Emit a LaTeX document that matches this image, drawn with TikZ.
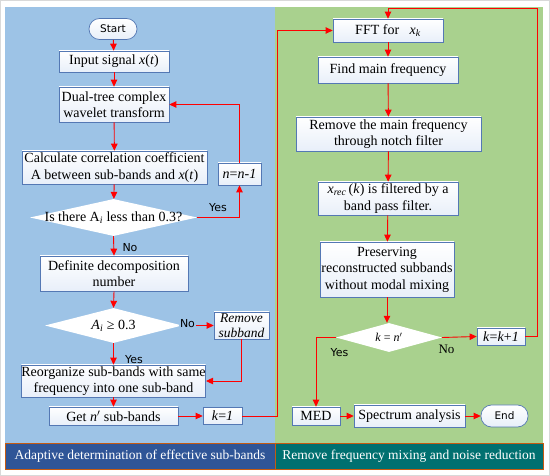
\documentclass[tikz,border=0pt]{standalone}
\usepackage{fontspec}
\setmainfont{Liberation Serif}
\newfontfamily\sansf{DejaVu Sans}
\usetikzlibrary{arrows.meta,shapes.geometric,calc}
\definecolor{panelblue}{RGB}{157,195,230}
\definecolor{panelgreen}{RGB}{169,209,142}
\definecolor{barblue}{RGB}{47,85,151}
\definecolor{barteal}{RGB}{0,112,112}
\definecolor{barline}{RGB}{197,90,17}
\definecolor{boxline}{RGB}{84,120,180}
\definecolor{boxshade}{RGB}{232,239,249}
\begin{document}
\begin{tikzpicture}[x=1pt,y=-1pt,
  box/.style={draw=boxline, line width=0.7pt, top color=white, bottom color=boxshade, align=center, inner sep=0pt, font=\fontsize{14}{16.5}\selectfont},
  term/.style={box, rounded corners=10.5pt, font=\sansf\fontsize{10.5}{12}\selectfont},
  dia/.style={fill=white, shape=diamond, inner sep=0pt, font=\fontsize{14}{16.5}\selectfont},
  arr/.style={draw=red, line width=0.9pt, -{Triangle[length=7pt,width=6.5pt]}},
  lab/.style={font=\sansf\fontsize{11}{13}\selectfont, inner sep=0pt},
  bartext/.style={text=white, font=\fontsize{13.5}{15}\selectfont, inner sep=0pt}]
\useasboundingbox (0,0) rectangle (550,476);
\fill[white] (0,0) rectangle (550,476);
\draw[gray!30] (0.5,0.5) rectangle (549.5,475.5);
\fill[panelblue] (5,7) rectangle (275,443);
\fill[panelgreen] (275,7) rectangle (543,443);
\draw[barline, fill=barblue] (5,443) rectangle (275,469);
\draw[barline, fill=barteal] (275,443) rectangle (543,469);
\node[bartext] (bl) at (140,456) {Adaptive determination of effective sub-bands};
\node[bartext] (br) at (409,456) {Remove frequency mixing and noise reduction};

% left column
\node[term, minimum width=48pt, minimum height=21pt] (start) at (113,29) {Start};
\node[box, minimum width=110pt, minimum height=21pt] (input) at (114,61.5) {Input signal \textit{x}(\textit{t})};
\node[box, minimum width=110pt, minimum height=35pt] (dual) at (114,104.5) {Dual-tree complex\\wavelet transform};
\node[box, minimum width=185pt, minimum height=33pt] (calc) at (114.5,167.5) {Calculate correlation coefficient\\A between sub-bands and \textit{x}(\textit{t})};
\node[box, minimum width=43pt, minimum height=22pt] (nmin) at (239.5,174) {\textit{n}=\textit{n}-\textit{1}};
\node[dia, minimum width=167pt, minimum height=37pt] (d1) at (113.5,217.5) {\makebox[0pt]{Is there A\textsubscript{\itshape i} less than 0.3?}};
\node[box, minimum width=148pt, minimum height=35pt] (def) at (114,273.5) {Definite decomposition\\number};
\node[dia, minimum width=137pt, minimum height=35pt] (d2) at (113.5,325.5) {\makebox[0pt]{\textit{A}\textsubscript{\itshape i} ≥ 0.3}};
\node[box, minimum width=55pt, minimum height=27pt, font=\itshape\fontsize{13.5}{15}\selectfont] (rem) at (241.5,325.5) {Remove\\subband};
\node[box, minimum width=183pt, minimum height=32pt] (reorg) at (113.5,381) {Reorganize sub-bands with same\\frequency into one sub-band};
\node[box, minimum width=129pt, minimum height=18pt] (get) at (113.5,416) {Get \textit{n}$'$ sub-bands};
\node[box, minimum width=39pt, minimum height=17pt] (k1) at (222.5,416) {\textit{k}=\textit{1}};

% right column
\node[box, minimum width=110pt, minimum height=23pt] (fft) at (388,30.5) {FFT for~~~\textit{x}\textsubscript{\itshape k}};
\node[box, minimum width=140pt, minimum height=26pt] (find) at (388,70) {Find main frequency};
\node[box, minimum width=185pt, minimum height=34pt] (remf) at (388.5,134) {Remove the main frequency\\through notch filter};
\node[box, minimum width=140pt, minimum height=33pt] (xrec) at (388,198.5) {\textit{x}\textsubscript{\itshape rec}\,(\textit{k}) is filtered by a\\band pass filter.};
\node[box, minimum width=134pt, minimum height=55pt] (pres) at (387,269.5) {Preserving\\reconstructed subbands\\without modal mixing};
\node[dia, minimum width=106pt, minimum height=29pt, font=\fontsize{12}{14}\selectfont] (d3) at (389,337.5) {\makebox[0pt]{\textit{k} = \textit{n}$'$}};
\node[box, minimum width=48pt, minimum height=17pt] (kk) at (501,336.5) {\textit{k}=\textit{k}+\textit{1}};
\node[box, minimum width=48pt, minimum height=18pt] (med) at (316,416) {MED};
\node[box, minimum width=111pt, minimum height=22pt] (spec) at (409.5,416) {Spectrum analysis};
\node[term, minimum width=47pt, minimum height=22pt] (end) at (504.5,416) {End};

\coordinate (lx) at (277,31);
\coordinate (rx) at (537,8);

% connectors left
\draw[arr] (start) -- (input);
\draw[arr] (input) -- (dual);
\draw[arr] (dual) -- (calc);
\draw[arr] (calc) -- (d1);
\draw[arr] (d1.east) -| (nmin.south);
\draw[arr] (nmin.north) |- (dual.east);
\draw[arr] (d1.south) -- (def.north);
\draw[arr] (def.south) -- (d2.north);
\draw[arr] (d2.east) -- (rem.west);
\draw[arr] (rem.south) |- (reorg.east);
\draw[arr] (d2.south) -- (reorg.north);
\draw[arr] (reorg) -- (get);
\draw[arr] (get) -- (k1);
\draw[arr] (k1.east) -| (lx |- fft.west) -- (fft.west);

% connectors right
\draw[arr] (fft) -- (find);
\draw[arr] (find) -- (remf);
\draw[arr] (remf) -- (xrec);
\draw[arr] (xrec) -- (pres);
\draw[arr] (pres.south) -- (pres.south |- d3.north);
\draw[arr] (d3.east) -- (kk.west);
\draw[arr] (kk.east) -| (rx) -| (fft.north);
\draw[arr] (d3.west) -| (med.north);
\draw[arr] (med) -- (spec);
\draw[arr] (spec) -- (end);

% labels
\node[lab] (y1) at (218,208) {Yes};
\node[lab] (n1) at (130,247.5) {No};
\node[lab, fill=panelblue, inner sep=1pt] (n2) at (187.5,324) {No};
\node[lab] (y2) at (134,360) {Yes};
\node[lab] (y3) at (339.5,352.5) {Yes};
\node[font=\fontsize{13}{15}\selectfont, inner sep=0pt] (n3) at (446.5,349) {No};
\end{tikzpicture}
\end{document}
